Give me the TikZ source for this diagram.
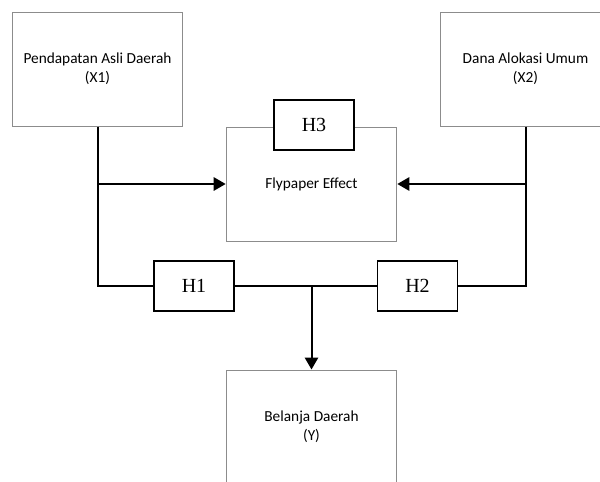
\documentclass[tikz,border=0pt]{standalone}
\usepackage{fontspec}
\setmainfont{Carlito}
\newfontfamily\hypfont{Liberation Serif}
\usetikzlibrary{arrows.meta}
\begin{document}
\begin{tikzpicture}[x=0.75pt,y=-0.75pt,
  varbox/.style={draw=gray!90,line width=0.75pt,minimum width=128pt,minimum height=85.5pt,
    align=center,font=\fontsize{11.5}{14}\selectfont},
  hypbox/.style={draw=black,line width=1.1pt,fill=white,minimum width=60pt,minimum height=37.5pt,
    font=\hypfont\fontsize{15}{18}\selectfont},
  link/.style={line width=1.5pt},
  arrow/.style={link,-{Triangle[length=9pt,width=10pt]}}]
  \useasboundingbox (0,0) rectangle (600,482);
  \clip (0,0) rectangle (600,482);
  \node[varbox] (x1) at (97.5,69) {Pendapatan Asli Daerah\\(X1)};
  \node[varbox] (x2) at (525.5,69) {Dana Alokasi Umum\\(X2)};
  \node[varbox] (fly) at (311.5,184) {Flypaper Effect};
  \node[varbox] (y) at (311.5,427) {Belanja Daerah\\(Y)};
  \node[hypbox] (h3) at (314,125) {H3};
  \node[hypbox] (h1) at (194,286) {H1};
  \node[hypbox] (h2) at (417.5,286) {H2};
  \coordinate (j1) at (x1.south |- fly.west);
  \coordinate (j2) at (x2.south |- fly.east);
  \coordinate (j3) at (fly.south |- h1.east);
  \draw[link] (x1.south) |- (h1.west);
  \draw[link] (x2.south) |- (h2.east);
  \draw[link] (h1.east) -- (h2.west);
  \draw[arrow] (j1) -- (fly.west);
  \draw[arrow] (j2) -- (fly.east);
  \draw[arrow] (j3) -- (y.north);
\end{tikzpicture}
\end{document}
